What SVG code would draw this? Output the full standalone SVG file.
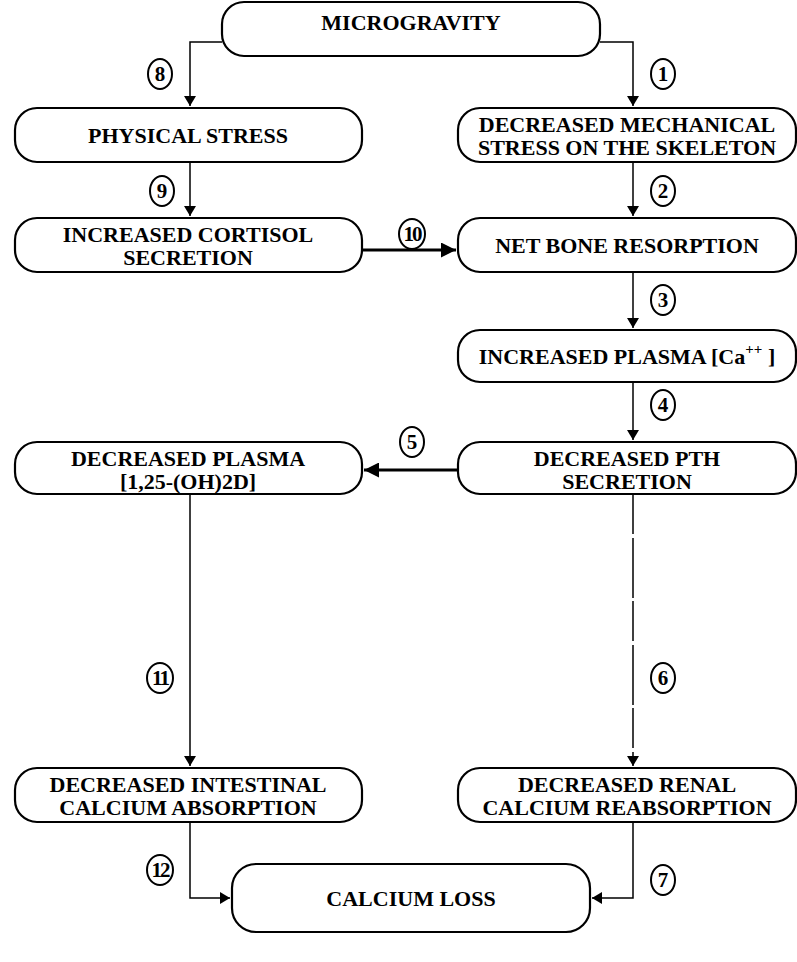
<svg xmlns="http://www.w3.org/2000/svg" width="797" height="962" viewBox="0 0 797 962">
<style>
.box{fill:#fff;stroke:#000;stroke-width:2.2}
.t{font-family:"Liberation Serif",serif;font-weight:bold;font-size:22px;text-anchor:middle;fill:#000}
.n{font-family:"Liberation Serif",serif;font-weight:bold;font-size:21px;text-anchor:middle;fill:#000}
.c{fill:none;stroke:#000;stroke-width:2}
.ln{fill:none;stroke:#000;stroke-width:1.5}
.thick{fill:none;stroke:#000;stroke-width:3}
</style>
<defs>
<marker id="ah" viewBox="0 0 10 12" refX="10" refY="6" markerWidth="10" markerHeight="12" markerUnits="userSpaceOnUse" orient="auto">
<path d="M0,0 L10,6 L0,12 z" fill="#000"/>
</marker>
<marker id="ah2" viewBox="0 0 10 10" refX="10" refY="5" markerWidth="5" markerHeight="5" orient="auto">
<path d="M0,0 L10,5 L0,10 z" fill="#000"/>
</marker>
</defs>
<rect width="797" height="962" fill="#fff"/>
<g id="connectors">
<path class="ln" d="M222,42 H190 V106" marker-end="url(#ah)"/>
<path class="ln" d="M600,42 H633 V106" marker-end="url(#ah)"/>
<path class="ln" d="M190,162 V216" marker-end="url(#ah)"/>
<path class="ln" d="M633,162 V216" marker-end="url(#ah)"/>
<path class="thick" d="M362,250 H456" marker-end="url(#ah2)"/>
<path class="ln" d="M633,272 V328" marker-end="url(#ah)"/>
<path class="ln" d="M633,382 V440" marker-end="url(#ah)"/>
<path class="thick" d="M458,470 H364" marker-end="url(#ah2)"/>
<path class="ln" d="M190,494 V766" marker-end="url(#ah)"/>
<path class="ln" d="M633,494 V766" stroke-dasharray="40,4,60,3" marker-end="url(#ah)"/>
<path class="ln" d="M190,822 V898 H230" marker-end="url(#ah)"/>
<path class="ln" d="M633,822 V898 H592" marker-end="url(#ah)"/>
</g>
<g id="labels">
<g id="l8"><ellipse class="c" cx="160" cy="74" rx="12" ry="15"/><text class="n" x="160" y="81">8</text></g>
<g id="l1"><ellipse class="c" cx="663" cy="74" rx="12" ry="15"/><text class="n" x="663" y="81">1</text></g>
<g id="l9"><ellipse class="c" cx="162" cy="191" rx="12" ry="15"/><text class="n" x="162" y="198">9</text></g>
<g id="l2"><ellipse class="c" cx="663" cy="191" rx="12" ry="15"/><text class="n" x="663" y="198">2</text></g>
<g id="l10"><ellipse class="c" cx="412" cy="234" rx="13" ry="15"/><text class="n" x="412" y="241" letter-spacing="-2">10</text></g>
<g id="l3"><ellipse class="c" cx="663" cy="300" rx="12" ry="15"/><text class="n" x="663" y="307">3</text></g>
<g id="l4"><ellipse class="c" cx="663" cy="405" rx="12" ry="15"/><text class="n" x="663" y="412">4</text></g>
<g id="l5"><ellipse class="c" cx="412" cy="442" rx="12" ry="15"/><text class="n" x="412" y="449">5</text></g>
<g id="l11"><ellipse class="c" cx="160" cy="678" rx="13" ry="15"/><text class="n" x="160" y="685" letter-spacing="-2">11</text></g>
<g id="l6"><ellipse class="c" cx="663" cy="678" rx="12" ry="15"/><text class="n" x="663" y="685">6</text></g>
<g id="l12"><ellipse class="c" cx="160" cy="870" rx="13" ry="15"/><text class="n" x="160" y="877" letter-spacing="-2">12</text></g>
<g id="l7"><ellipse class="c" cx="663" cy="880" rx="12" ry="15"/><text class="n" x="663" y="887">7</text></g>
</g>
<g id="microgravity"><rect class="box" x="222" y="2" width="378" height="54" rx="22"/><text class="t" x="411" y="30">MICROGRAVITY</text></g>
<g id="physical"><rect class="box" x="15" y="108" width="347" height="54" rx="22"/><text class="t" x="188" y="143">PHYSICAL STRESS</text></g>
<g id="mechanical"><rect class="box" x="458" y="108" width="338" height="54" rx="22"/><text class="t" x="627" y="132">DECREASED MECHANICAL</text><text class="t" x="627" y="155">STRESS ON THE SKELETON</text></g>
<g id="cortisol"><rect class="box" x="15" y="218" width="347" height="54" rx="22"/><text class="t" x="188" y="242">INCREASED CORTISOL</text><text class="t" x="188" y="265">SECRETION</text></g>
<g id="resorption"><rect class="box" x="458" y="218" width="338" height="54" rx="22"/><text class="t" x="627" y="253">NET BONE RESORPTION</text></g>
<g id="plasmaca"><rect class="box" x="458" y="330" width="338" height="52" rx="22"/><text class="t" x="627" y="364">INCREASED PLASMA [Ca<tspan dy="-10" font-size="15">++</tspan><tspan dy="10"> ]</tspan></text></g>
<g id="pth"><rect class="box" x="458" y="442" width="338" height="52" rx="22"/><text class="t" x="627" y="466">DECREASED PTH</text><text class="t" x="627" y="489">SECRETION</text></g>
<g id="plasmad"><rect class="box" x="15" y="442" width="347" height="52" rx="22"/><text class="t" x="188" y="466">DECREASED PLASMA</text><text class="t" x="188" y="489">[1,25-(OH)2D]</text></g>
<g id="intestinal"><rect class="box" x="15" y="768" width="347" height="54" rx="22"/><text class="t" x="188" y="792">DECREASED INTESTINAL</text><text class="t" x="188" y="815">CALCIUM ABSORPTION</text></g>
<g id="renal"><rect class="box" x="458" y="768" width="338" height="54" rx="22"/><text class="t" x="627" y="792">DECREASED RENAL</text><text class="t" x="627" y="815">CALCIUM REABSORPTION</text></g>
<g id="loss"><rect class="box" x="232" y="864" width="358" height="68" rx="24"/><text class="t" x="411" y="906">CALCIUM LOSS</text></g>
</svg>
